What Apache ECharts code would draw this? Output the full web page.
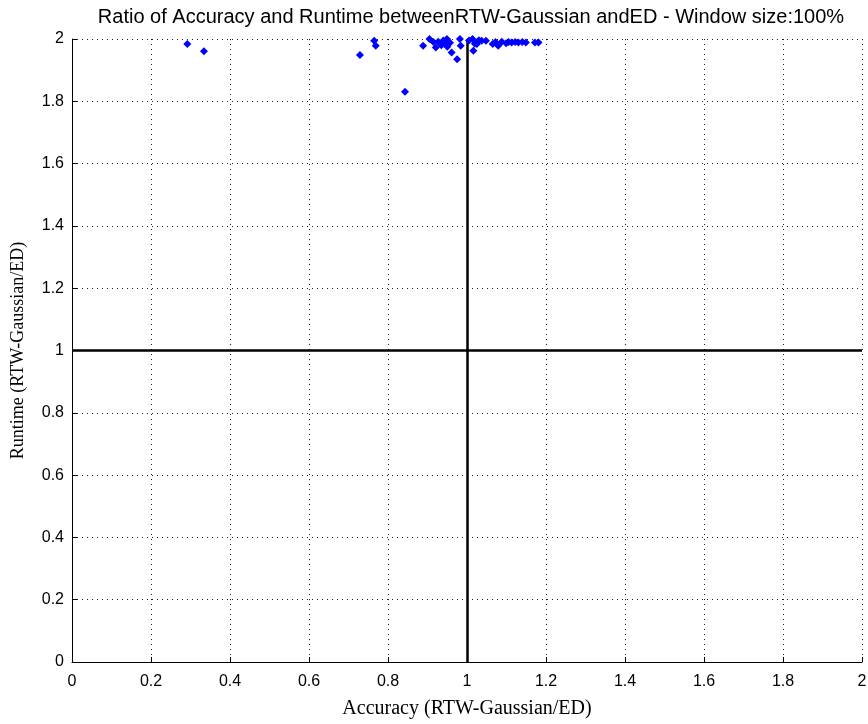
<!DOCTYPE html>
<html>
<head>
<meta charset="utf-8">
<script src="https://cdn.jsdelivr.net/npm/echarts@6/dist/echarts.min.js"></script>
<style>
  html, body { margin: 0; padding: 0; background: #fff; }
  #chart { width: 868px; height: 724px; }
</style>
</head>
<body>
<div id="chart"></div>
<script>
// Accuracy ratio (x) and runtime ratio (y), RTW-Gaussian over ED, one pair per dataset
const accuracyRatio = [
  0.292, 0.334, 0.729, 0.765, 0.769, 0.843,
  0.889, 0.905, 0.915, 0.927, 0.921, 0.935, 0.940, 0.949, 0.945, 0.957,
  0.950, 0.961, 0.975, 0.982, 0.984, 1.005, 1.014, 1.016, 1.020, 1.025,
  1.030, 1.037, 1.048, 1.065, 1.072, 1.079, 1.088, 1.099, 1.105, 1.113,
  1.122, 1.130, 1.140, 1.149, 1.172, 1.181
];
const runtimeRatio = [
  1.984, 1.961, 1.949, 1.994, 1.978, 1.831,
  1.978, 2.000, 1.990, 1.991, 1.973, 1.980, 1.995, 2.000, 1.985, 1.988,
  1.975, 1.957, 1.935, 2.000, 1.978, 1.995, 2.000, 1.962, 1.985, 1.984,
  1.996, 1.994, 1.994, 1.984, 1.990, 1.978, 1.991, 1.986, 1.990, 1.989,
  1.990, 1.989, 1.990, 1.989, 1.989, 1.989
];
const xTicks = [0, 0.2, 0.4, 0.6, 0.8, 1, 1.2, 1.4, 1.6, 1.8, 2];
const yTicks = [0, 0.2, 0.4, 0.6, 0.8, 1, 1.2, 1.4, 1.6, 1.8, 2];
const referenceValue = 1;

const points = accuracyRatio.map((x, i) => [x, runtimeRatio[i]]);
const fmt = v => String(Math.round(v * 10) / 10);

const chart = echarts.init(document.getElementById('chart'), null, { renderer: 'canvas' });

const gridDots = { show: true, lineStyle: { color: '#222', width: 1, type: [1, 4] } };
const sans = 'Liberation Sans, Arial, sans-serif';
const serif = 'Liberation Serif, Times New Roman, serif';

chart.setOption({
  animation: false,
  backgroundColor: '#fff',
  title: {
    text: 'Ratio of Accuracy and Runtime betweenRTW-Gaussian andED - Window size:100%',
    left: 466, top: 2, textAlign: 'center',
    textStyle: { fontFamily: sans, fontSize: 20, fontWeight: 'normal', color: '#000' }
  },
  grid: { left: 72, right: 6, top: 39, bottom: 62, containLabel: false, outerBoundsMode: 'none' },
  xAxis: {
    type: 'value', min: xTicks[0], max: xTicks[xTicks.length - 1], interval: 0.2,
    name: 'Accuracy (RTW-Gaussian/ED)', nameLocation: 'middle', nameGap: 37,
    nameTextStyle: { fontFamily: serif, fontSize: 20, color: '#000' },
    axisLine: { show: true, onZero: false, lineStyle: { color: '#000', width: 1 } },
    axisTick: { show: true, inside: true, length: 5, lineStyle: { color: '#000' } },
    axisLabel: { margin: 12, formatter: fmt, fontFamily: sans, fontSize: 16, color: '#000' },
    splitLine: gridDots
  },
  yAxis: {
    type: 'value', min: yTicks[0], max: yTicks[yTicks.length - 1], interval: 0.2,
    name: 'Runtime (RTW-Gaussian/ED)', nameLocation: 'middle', nameGap: 45,
    nameTextStyle: { fontFamily: serif, fontSize: 18, color: '#000' },
    axisLine: { show: true, onZero: false, lineStyle: { color: '#000', width: 1 } },
    axisTick: { show: true, inside: true, length: 5, lineStyle: { color: '#000' } },
    axisLabel: { margin: 8, formatter: fmt, fontFamily: sans, fontSize: 16, color: '#000' },
    splitLine: gridDots
  },
  series: [
    {
      type: 'scatter',
      data: points,
      symbol: 'diamond',
      symbolSize: 8,
      itemStyle: { color: '#0000ff', opacity: 1 },
      z: 5,
      markLine: {
        silent: true,
        symbol: ['none', 'none'],
        label: { show: false },
        lineStyle: { color: '#000', width: 2.5, type: 'solid' },
        data: [{ xAxis: referenceValue }, { yAxis: referenceValue }]
      }
    }
  ]
});
</script>
</body>
</html>
